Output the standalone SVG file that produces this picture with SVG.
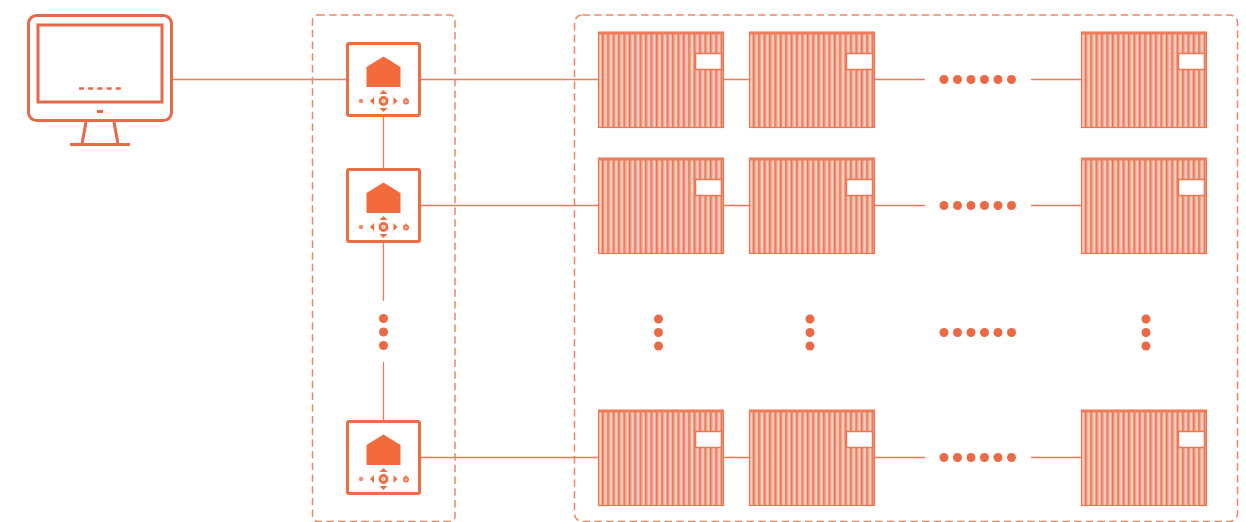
<svg xmlns="http://www.w3.org/2000/svg" width="1246" height="522" viewBox="0 0 1246 522">
<style>
.c{stroke:#ee7a58;stroke-width:1.3;fill:none}
.b{fill:none;stroke:#ee8468;stroke-width:1.5;stroke-dasharray:7.5 4.200}
.dot{fill:#e96a45}
.m{fill:none;stroke:#e8694a;stroke-width:3}
</style>
<defs>
<pattern id="st" x="598" y="0" width="5.4" height="10" patternUnits="userSpaceOnUse">
<rect width="5.4" height="10" fill="#eeab96"/>
<rect x="0" width="1.3" height="10" fill="#ea7250"/>
<rect x="3.2" width="1" height="10" fill="#fce8e0"/>
</pattern>
<g id="panel">
<rect x="0.5" y="0.5" width="125" height="95" fill="url(#st)"/>
<rect x="0.5" y="0.5" width="125" height="95" fill="none" stroke="#ee7350" stroke-width="1.2"/>
<rect x="0" y="-0.500" width="126" height="3" fill="#ee7d5c"/>
<rect x="97.500" y="21.500" width="26" height="16" fill="#fff" stroke="#f07550" stroke-width="1.500"/>
</g>
<g id="ctrl">
<rect x="1.500" y="1.500" width="72" height="72" rx="1.500" fill="#fff" stroke="#f06c42" stroke-width="3"/>
<path d="M37.500 14.500L54.500 25V45H20.500V25Z" fill="#f26b3c"/>
<circle cx="37.500" cy="59" r="3.500" fill="none" stroke="#f06c42" stroke-width="2.800"/>
<circle cx="37.500" cy="59" r="1" fill="#f6a184"/>
<path d="M37.500 48l4 4h-8zM37.500 70l4-4h-8zM24 59l4-4v8zM51.500 59l-4-4v8z" fill="#f06c42"/>
<circle cx="15" cy="59" r="2.200" fill="#f28a68"/>
<circle cx="60" cy="59.500" r="2.300" fill="#f9b59c" stroke="#f06c42" stroke-width="1.400"/>
<path d="M60 55.500v2.500" stroke="#f06c42" stroke-width="1.400"/>
</g>
<g id="vd"><circle cx="0" cy="0" r="4.500" class="dot"/><circle cx="0" cy="13.500" r="4.500" class="dot"/><circle cx="0" cy="27" r="4.500" class="dot"/></g>
<g id="hd"><circle cx="0" cy="0" r="4.500" class="dot"/><circle cx="13.500" cy="0" r="4.500" class="dot"/><circle cx="27" cy="0" r="4.500" class="dot"/><circle cx="40.500" cy="0" r="4.500" class="dot"/><circle cx="54" cy="0" r="4.500" class="dot"/><circle cx="67.500" cy="0" r="4.500" class="dot"/></g>
</defs>

<g id="connectors">
<path class="c" d="M172 79.500H347M420 79.500H598M724 79.500H749M875 79.500H925M1031 79.500H1081"/>
<path class="c" d="M420 205.500H598M724 205.500H749M875 205.500H925M1031 205.500H1081"/>
<path class="c" d="M420 457.500H598M724 457.500H749M875 457.500H925M1031 457.500H1081"/>
<path class="c" d="M383.500 116V169M383.500 242V301M383.500 362V421"/>
</g>

<g id="group-controllers"><rect class="b" x="312.500" y="15" width="142.500" height="506.500" rx="5"/></g>
<g id="group-panels"><rect class="b" x="574.500" y="15" width="663" height="506.500" rx="8"/></g>

<g id="monitor">
<rect class="m" x="28.500" y="15.500" width="143" height="105" rx="8"/>
<rect class="m" x="38" y="25" width="124" height="77"/>
<path d="M79 88.500H121" stroke="#e8694a" stroke-width="2.500" stroke-dasharray="5 4.200" fill="none"/>
<rect x="97" y="110" width="6" height="3" fill="#e8694a"/>
<path d="M86 122L82 144M114 122L118 144" class="m" stroke-width="2.500"/>
<path d="M70 144.500H130" class="m" stroke-width="2.500"/>
</g>

<g id="controller-1"><use href="#ctrl" x="346" y="42"/></g>
<g id="controller-2"><use href="#ctrl" x="346" y="168"/></g>
<g id="controller-3"><use href="#ctrl" x="346" y="420"/></g>
<g id="controller-dots"><use href="#vd" x="383.500" y="318.500"/></g>

<g id="panel-1-1"><use href="#panel" x="598" y="32"/></g>
<g id="panel-1-2"><use href="#panel" x="749" y="32"/></g>
<g id="panel-1-3"><use href="#panel" x="1081" y="32"/></g>
<g id="panel-2-1"><use href="#panel" x="598" y="158"/></g>
<g id="panel-2-2"><use href="#panel" x="749" y="158"/></g>
<g id="panel-2-3"><use href="#panel" x="1081" y="158"/></g>
<g id="panel-3-1"><use href="#panel" x="598" y="410"/></g>
<g id="panel-3-2"><use href="#panel" x="749" y="410"/></g>
<g id="panel-3-3"><use href="#panel" x="1081" y="410"/></g>

<g id="dots">
<use href="#hd" x="944" y="79.500"/>
<use href="#hd" x="944" y="205.500"/>
<use href="#hd" x="944" y="332.500"/>
<use href="#hd" x="944" y="457.500"/>
<use href="#vd" x="658.500" y="319"/>
<use href="#vd" x="810" y="319"/>
<use href="#vd" x="1146" y="319"/>
</g>
</svg>
